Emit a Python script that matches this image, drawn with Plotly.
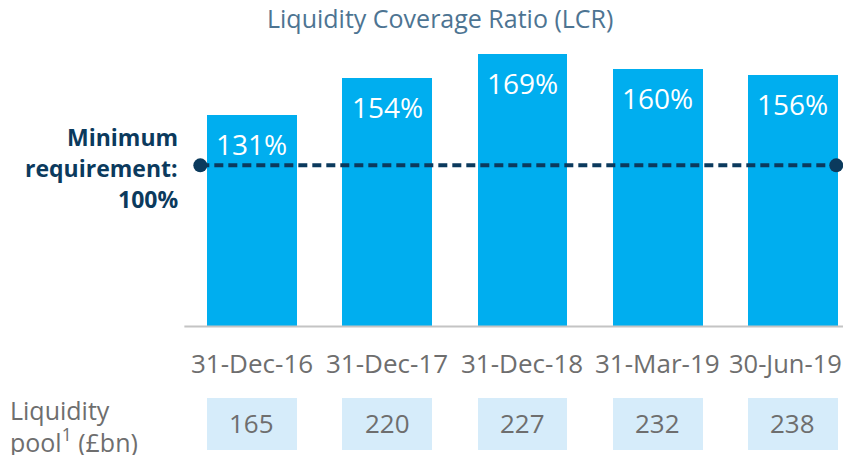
import plotly.graph_objects as go

categories = ["31-Dec-16", "31-Dec-17", "31-Dec-18", "31-Mar-19", "30-Jun-19"]
lcr_values = [131, 154, 169, 160, 156]
lcr_labels = ["131%", "154%", "169%", "160%", "156%"]
pool_values = [165, 220, 227, 232, 238]
min_requirement = 100
min_req_lines = ["Minimum", "requirement:", "100%"]

FONT = "Open Sans"
CYAN = "#00AEEF"
NAVY = "#0B3A5D"
GREY = "#6E6E6E"
BOX = "#D6ECFA"

xs = list(range(len(categories)))

fig = go.Figure()

# main LCR bars
fig.add_trace(go.Bar(x=xs, y=lcr_values, width=0.665, marker=dict(color=CYAN, line=dict(width=0)),
                     hoverinfo="skip", showlegend=False))

# liquidity pool boxes (drawn below the baseline)
box_base = -76.6
box_height = 32.3
fig.add_trace(go.Bar(x=xs, y=[box_height] * len(xs), base=[box_base] * len(xs), width=0.665,
                     marker=dict(color=BOX, line=dict(width=0)), hoverinfo="skip", showlegend=False))

# minimum requirement dashed line
fig.add_trace(go.Scatter(x=[-0.382, 4.32], y=[min_requirement, min_requirement], mode="lines+markers",
                         line=dict(color=NAVY, width=4, dash="9px,5px"),
                         marker=dict(size=14, color=NAVY), hoverinfo="skip", showlegend=False))

annotations = []
for x, v, lab in zip(xs, lcr_values, lcr_labels):
    annotations.append(dict(x=x, y=v, text=lab, showarrow=False, yanchor="middle", yshift=-29,
                            font=dict(family=FONT, size=28, color="white")))
for i, (x, c) in enumerate(zip(xs, categories)):
    annotations.append(dict(x=x, y=0, text=c, showarrow=False, yanchor="middle", yshift=-36,
                            xshift=-7 if i == len(xs) - 1 else 0,
                            font=dict(family=FONT, size=26 if i < len(xs) - 1 else 25.5, color=GREY)))
for x, p in zip(xs, pool_values):
    annotations.append(dict(x=x, y=box_base + box_height / 2, text=str(p), showarrow=False, yanchor="middle",
                            yshift=1, font=dict(family=FONT, size=26, color=GREY)))

annotations.append(dict(x=0.513, xref="paper", y=1, yref="paper", yshift=-10, text="Liquidity Coverage Ratio (LCR)",
                        showarrow=False, yanchor="middle",
                        font=dict(family=FONT, size=25, color="#4D7492")))
for line, shift in zip(min_req_lines, [28.5, -3, -34]):
    annotations.append(dict(x=-0.53, y=min_requirement, xanchor="right", yanchor="middle", yshift=shift,
                            text=line, align="right", showarrow=False,
                            font=dict(family=FONT, size=23, color=NAVY, weight="bold")))
annotations.append(dict(x=0.0, xref="paper", y=-51.5, xanchor="left", yanchor="middle",
                        text="Liquidity", align="left", showarrow=False,
                        font=dict(family=FONT, size=25, color=GREY)))
annotations.append(dict(x=0.0, xref="paper", y=-70.5, xanchor="left", yanchor="middle",
                        text="pool<sup>1</sup> (£bn)", align="left", showarrow=False,
                        font=dict(family=FONT, size=25, color=GREY)))

# page body has an 8px default margin, so the figure is sized/offset to compensate
fig.update_layout(
    width=843, height=447,
    margin=dict(l=0, r=0, t=0, b=0),
    paper_bgcolor="white", plot_bgcolor="white",
    bargap=0, barmode="overlay",
    xaxis=dict(range=[-1.804, 4.429], visible=False, fixedrange=True),
    yaxis=dict(range=[-79.7, 197.6], visible=False, fixedrange=True),
    shapes=[dict(type="line", xref="x", yref="y", x0=-0.5, x1=4.45, y0=0, y1=0,
                 line=dict(color="#C4C4C4", width=2), layer="above")],
    annotations=annotations,
)

fig.write_html("out.html")
